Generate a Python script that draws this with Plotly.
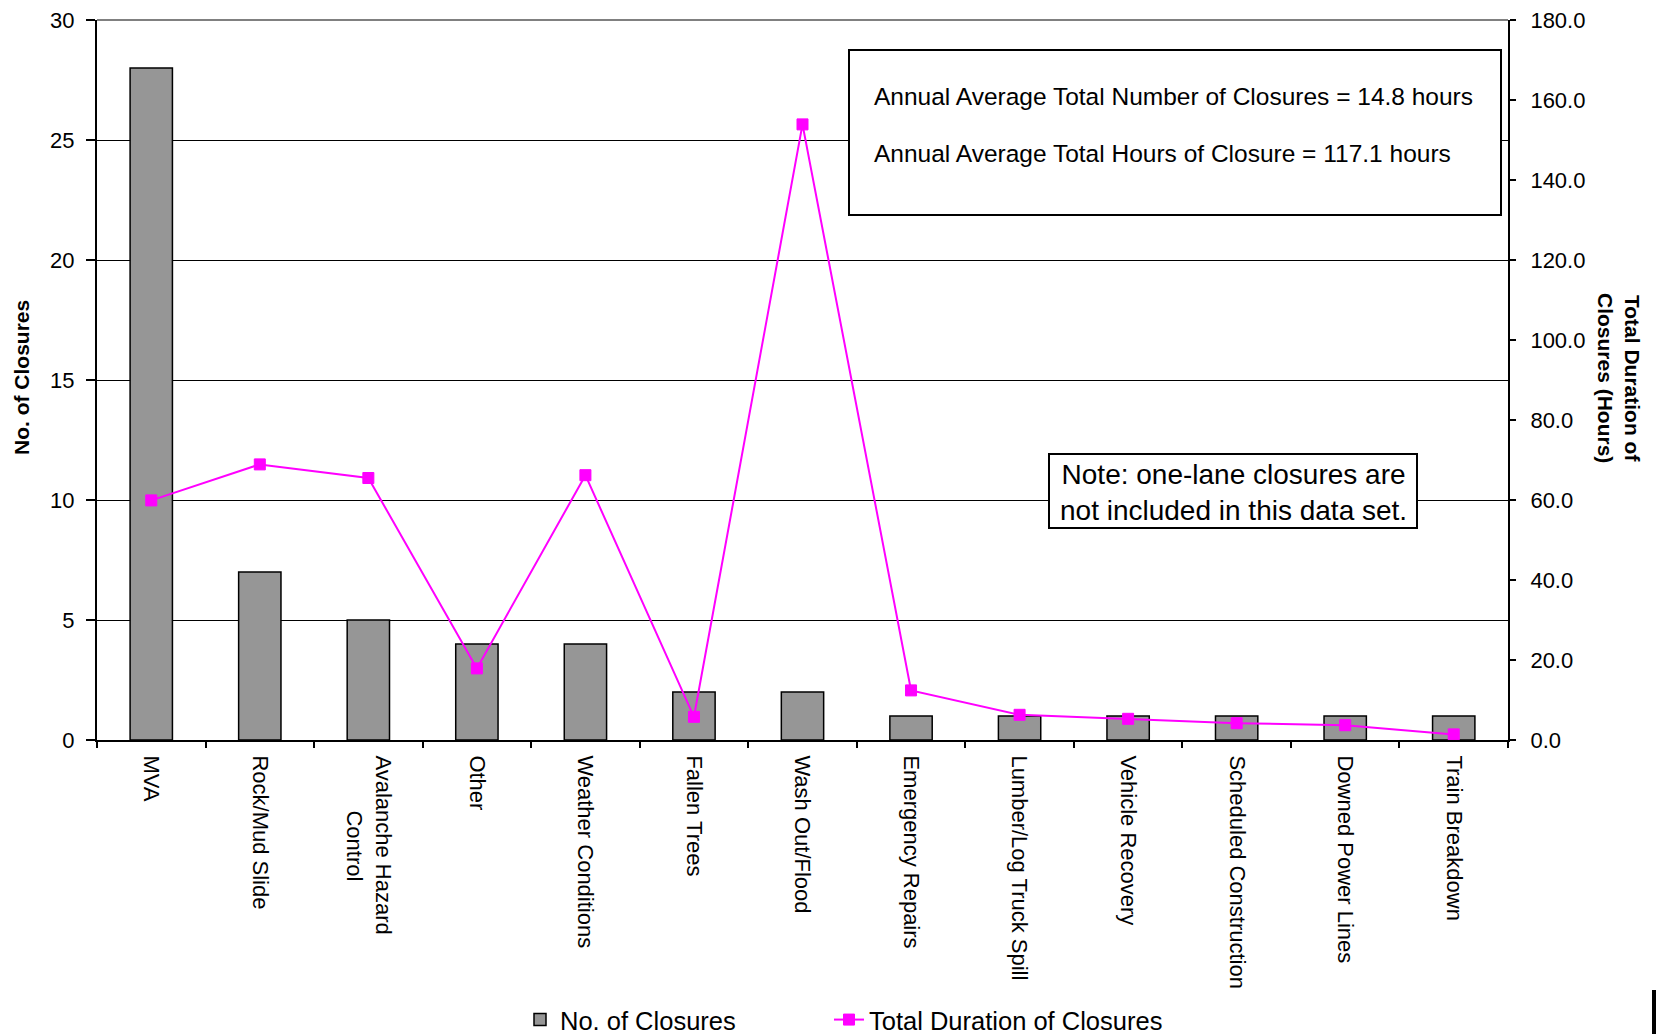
import plotly.graph_objects as go

# Road closure causes: count of closures and total duration (hours)
NB = "\u00a0"
categories = [
    "MVA", "Rock/Mud Slide", "Avalanche Hazard<br>" + NB * 9 + "Control", "Other",
    "Weather Conditions", "Fallen Trees", "Wash Out/Flood", "Emergency Repairs",
    "Lumber/Log Truck Spill", "Vehicle Recovery", "Scheduled Construction",
    "Downed Power Lines", "Train Breakdown",
]
num_closures = [28, 7, 5, 4, 4, 2, 2, 1, 1, 1, 1, 1, 1]
duration_hours = [59.9, 68.9, 65.5, 17.9, 66.2, 5.8, 153.9, 12.4, 6.3, 5.3, 4.2, 3.7, 1.4]

left_ticks = [0, 5, 10, 15, 20, 25, 30]
right_ticks = [0, 20, 40, 60, 80, 100, 120, 140, 160, 180]

FONT = "Liberation Sans, Arial, sans-serif"
W, H = 1656, 1034
L, R, T, B = 97, 1508, 20, 740  # plot area in pixels


def px(x):
    return (x - L) / (R - L)


def py(y):
    return (B - y) / (B - T)


fig = go.Figure()

fig.add_trace(go.Bar(
    x=categories, y=num_closures, name="No. of Closures",
    marker=dict(color="#969696", line=dict(color="black", width=1.5)),
    yaxis="y", legend="legend",
))

fig.add_trace(go.Scatter(
    x=categories, y=duration_hours, name="Total Duration of Closures",
    mode="lines+markers",
    line=dict(color="#FF00FF", width=2),
    marker=dict(symbol="square", size=11, color="#FF00FF",
                line=dict(color="#FF00FF", width=1)),
    yaxis="y2", legend="legend2",
))

annotations = [
    # axis titles
    dict(text="<b>No. of Closures</b>", x=px(21), y=py(378), xref="paper", yref="paper",
         showarrow=False, textangle=-90, font=dict(size=21, color="black", family=FONT),
         xanchor="center", yanchor="middle"),
    dict(text="<b>Total Duration of<br>Closures (Hours)</b>", x=px(1619), y=py(378),
         xref="paper", yref="paper", showarrow=False, textangle=90,
         font=dict(size=21, color="black", family=FONT), xanchor="center", yanchor="middle"),
    # summary box text
    dict(text="Annual Average Total Number of Closures = 14.8 hours", x=px(872), y=py(97),
         xref="paper", yref="paper", showarrow=False, xanchor="left", yanchor="middle",
         font=dict(size=24.5, color="black", family=FONT)),
    dict(text="Annual Average Total Hours of Closure = 117.1 hours", x=px(872), y=py(153),
         xref="paper", yref="paper", showarrow=False, xanchor="left", yanchor="middle",
         font=dict(size=24.5, color="black", family=FONT)),
    # note box text
    dict(text="Note: one-lane closures are<br>not included in this data set.", x=px(1233),
         y=py(492), xref="paper", yref="paper", showarrow=False, xanchor="center",
         yanchor="middle", align="center", font=dict(size=28, color="black", family=FONT)),
]

shapes = [
    # top border of the plot area
    dict(type="line", xref="paper", yref="paper", x0=0, x1=1, y0=1, y1=1,
         line=dict(color="#808080", width=2)),
    # summary box
    dict(type="rect", xref="paper", yref="paper", x0=px(849), x1=px(1501), y0=py(50), y1=py(215),
         line=dict(color="black", width=2), fillcolor="white", layer="above"),
    # note box
    dict(type="rect", xref="paper", yref="paper", x0=px(1049), x1=px(1417), y0=py(454), y1=py(528),
         line=dict(color="black", width=2), fillcolor="white", layer="above"),
    # small mark at lower right edge
    dict(type="rect", xref="paper", yref="paper", x0=px(1652), x1=px(1657), y0=py(990), y1=py(1035),
         line=dict(width=0), fillcolor="black"),
]

legend_common = dict(orientation="h", xref="container", yref="container",
                     y=1 - 1020 / H, xanchor="left", yanchor="middle",
                     font=dict(size=25.5, family=FONT, color="black"),
                     bgcolor="rgba(0,0,0,0)")

fig.update_layout(
    width=W, height=H,
    margin=dict(l=L, r=W - R, t=T, b=H - B, pad=0, autoexpand=False),
    paper_bgcolor="white", plot_bgcolor="white",
    font=dict(family=FONT, color="black", size=22),
    bargap=0.61,
    showlegend=True,
    legend=dict(x=520 / W, **legend_common),
    legend2=dict(x=829 / W, **legend_common),
    xaxis=dict(
        type="category", range=[-0.5, len(categories) - 0.5], tickson="boundaries",
        ticks="outside", ticklen=6, tickwidth=2, automargin=False,
        tickcolor="black", showline=True, linecolor="black", linewidth=2,
        tickangle=90, tickfont=dict(size=22, family=FONT, color="black"),
        ticklabelstandoff=9, showgrid=False, zeroline=False,
    ),
    yaxis=dict(
        range=[0, 30], tickvals=left_ticks, ticks="outside", ticklen=9, tickwidth=2,
        tickcolor="black", showline=True, linecolor="black", linewidth=2, automargin=False,
        showgrid=True, gridcolor="black", gridwidth=1, zeroline=False,
        tickfont=dict(size=22, family=FONT, color="black"), ticklabelstandoff=7,
    ),
    yaxis2=dict(
        range=[0, 180], tickvals=right_ticks, tickformat=".1f", overlaying="y", side="right",
        ticks="outside", ticklen=6, tickwidth=2, tickcolor="black", showline=True,
        linecolor="black", linewidth=2, showgrid=False, zeroline=False, automargin=False,
        tickfont=dict(size=22, family=FONT, color="black"), ticklabelstandoff=10,
    ),
    annotations=annotations,
    shapes=shapes,
)

fig.write_html("out.html")
